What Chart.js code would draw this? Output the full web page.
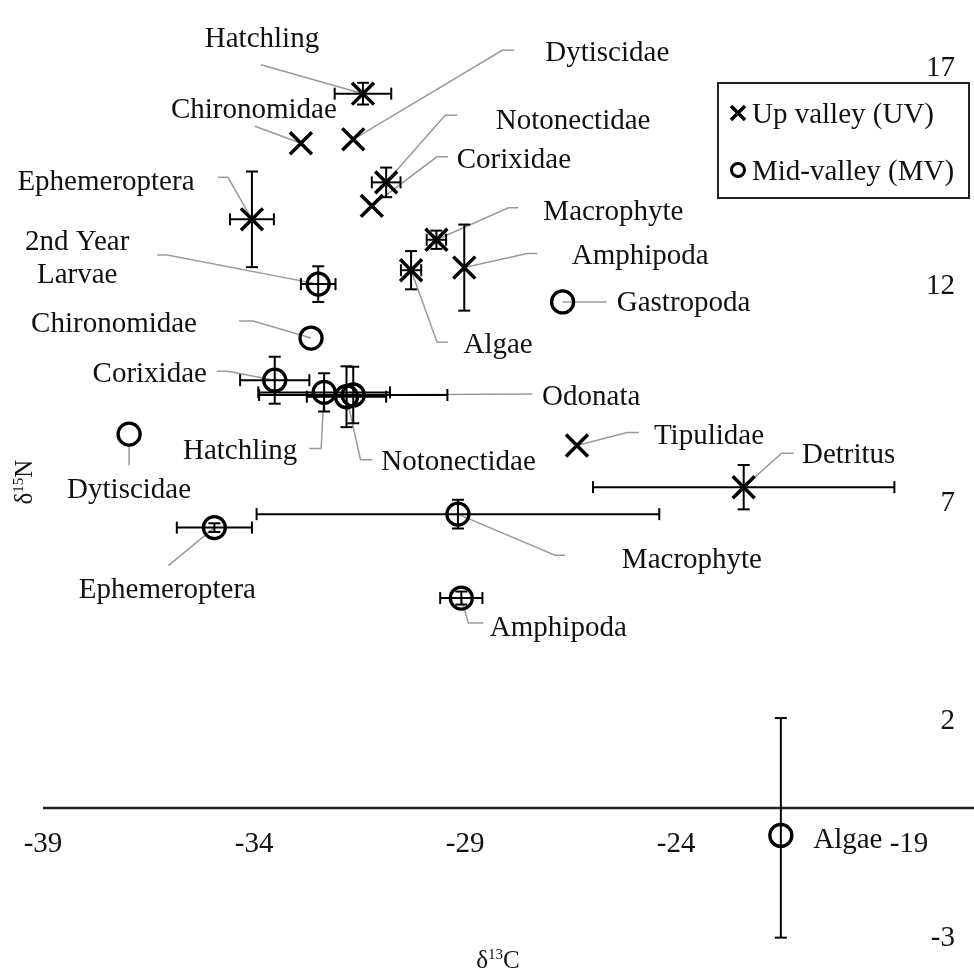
<!DOCTYPE html>
<html>
<head>
<meta charset="utf-8">
<script src="https://cdn.jsdelivr.net/npm/chart.js@4/dist/chart.umd.min.js"></script>
<style>
    body { margin: 0; background: #fff; }
    canvas { display: block; }
</style>
</head>
<body>
<canvas id="grafico" width="974" height="973"></canvas>
<script>
// Up valley (UV): d13C, d15N and error (same up/down)
const uvLabels = ['Hatchling', 'Chironomidae', 'Dytiscidae', 'Notonectidae', 'Corixidae', 'Ephemeroptera', 'Macrophyte', 'Amphipoda', 'Algae', 'Tipulidae', 'Detritus'];
const uvC = [-31.42, -32.89, -31.65, -30.87, -31.21, -34.05, -29.68, -29.02, -30.28, -26.35, -22.40];
const uvN = [16.43, 15.29, 15.38, 14.39, 13.85, 13.54, 13.07, 12.43, 12.37, 8.34, 7.38];
const uvErrC = [0.67, 0, 0, 0.34, 0, 0.52, 0.23, 0, 0.24, 0, 3.57];
const uvErrN = [0.25, 0, 0, 0.34, 0, 1.10, 0.21, 0.99, 0.44, 0, 0.51];

// Mid-valley (MV)
const mvLabels = ['2nd Year\nLarvae', 'Gastropoda', 'Chironomidae', 'Corixidae', 'Odonata', 'Hatchling', 'Notonectidae', 'Dytiscidae', 'Ephemeroptera', 'Macrophyte', 'Amphipoda', 'Algae'];
const mvC = [-32.48, -26.69, -32.65, -33.51, -31.65, -32.34, -31.81, -36.96, -34.94, -29.17, -29.09, -21.52];
const mvN = [12.05, 11.64, 10.81, 9.84, 9.50, 9.56, 9.46, 8.60, 6.45, 6.76, 4.83, -0.63];
const mvErrC = [0.41, 0, 0, 0.82, 2.23, 1.56, 0.94, 0, 0.89, 4.77, 0.50, 0];
const mvErrNUp = [0.41, 0, 0, 0.54, 0.65, 0.44, 0.70, 0, 0.10, 0.33, 0.15, 2.70];
const mvErrNDown = [0.41, 0, 0, 0.54, 0.65, 0.44, 0.70, 0, 0.10, 0.33, 0.15, 2.35];

// tick labels
const xTicks = [-39, -34, -29, -24, -19];
const yTicks = [17, 12, 7, 2, -3];

// label placement (pixel offsets from the point) and leader lines
const uvLabelOffset = [[-101, -56], [-47, -35], [254, -88], [187, -63], [142, -47], [-146, -39], [177, -29], [176, -13], [87, 73], [132, -11], [105, -34]];
const uvLeader = [
    [[-102, -29], [0, 0]],
    [[-46, -17], [0, 0]],
    [[161, -89], [149, -89], [0, 0]],
    [[71, -67], [59, -67], [0, 0]],
    [[76, -49], [65, -49], [0, 0]],
    [[-34, -42], [-24, -42], [0, 0]],
    [[82, -32], [72, -32], [0, 0]],
    [[73, -14], [63, -14], [0, 0]],
    [[37, 72], [26, 72], [0, 0]],
    [[62, -13], [50, -13], [0, 0]],
    [[50, -34], [38, -34], [0, 0]]
];
const mvLabelOffset = [[-241, -27], [121, -1], [-197, -16], [-125, -8], [238, 0], [-84, 57], [112, 64], [0, 54], [-47, 61], [234, 44], [97, 28], [67, 3]];
const mvLeader = [
    [[-161, -29], [-151, -29], [0, 0]],
    [[44, 0], [0, 0]],
    [[-72, -17], [-58, -17], [0, 0]],
    [[-58, -9], [-47, -9], [0, 0]],
    [[179, -1], [0, 0]],
    [[-15, 56], [-3, 56], [0, 0]],
    [[26, 63], [14, 63], [0, 0]],
    [[0, 31], [0, 11]],
    [[-46, 38], [0, 0]],
    [[107, 41], [97, 41], [0, 0]],
    [[22, 25], [7, 25], [0, 0]],
    []
];

const FONT = '"Liberation Serif", "Times New Roman", serif';
const SIZE = 29;

// error bars drawn with the library scales
const errorBars = {
    id: 'errorBars',
    afterDatasetsDraw(chart) {
        const { ctx, scales: { x, y } } = chart;
        ctx.save();
        ctx.strokeStyle = '#000';
        ctx.lineWidth = 2;
        const seg = (a, b, c, d) => { ctx.beginPath(); ctx.moveTo(a, b); ctx.lineTo(c, d); ctx.stroke(); };
        chart.data.datasets.forEach(ds => {
            ds.data.forEach((p, i) => {
                const px = x.getPixelForValue(p.x);
                const py = y.getPixelForValue(p.y);
                const ex = ds.errX[i];
                if (ex > 0) {
                    const l = x.getPixelForValue(p.x - ex);
                    const r = x.getPixelForValue(p.x + ex);
                    seg(l, py, r, py);
                    seg(l, py - 6, l, py + 6);
                    seg(r, py - 6, r, py + 6);
                }
                const up = ds.errYUp[i], dn = ds.errYDown[i];
                if (up > 0 || dn > 0) {
                    const t = y.getPixelForValue(p.y + up);
                    const b = y.getPixelForValue(p.y - dn);
                    seg(px, t, px, b);
                    seg(px - 6, t, px + 6, t);
                    seg(px - 6, b, px + 6, b);
                }
            });
        });
        ctx.restore();
    }
};

// text with superscript part
function supText(ctx, parts, cx, baseline, size, supSize) {
    let w = 0;
    parts.forEach(p => {
        ctx.font = `${p.sup ? supSize : size}px ${FONT}`;
        w += ctx.measureText(p.t).width;
    });
    let xx = cx - w / 2;
    ctx.textAlign = 'left';
    ctx.textBaseline = 'alphabetic';
    parts.forEach(p => {
        ctx.font = `${p.sup ? supSize : size}px ${FONT}`;
        ctx.fillText(p.t, xx, p.sup ? baseline - size * 0.38 : baseline);
        xx += ctx.measureText(p.t).width;
    });
}

// leaders, labels, axis line, legend, axis titles
const annotations = {
    id: 'annotations',
    beforeDatasetsDraw(chart) {
        const { ctx, chartArea, scales: { y } } = chart;
        ctx.save();
        // horizontal axis at 0, running to the right edge
        const y0 = y.getPixelForValue(0);
        ctx.strokeStyle = '#222';
        ctx.lineWidth = 2.5;
        ctx.beginPath();
        ctx.moveTo(chartArea.left, y0);
        ctx.lineTo(chart.width, y0);
        ctx.stroke();
        // leader lines
        ctx.strokeStyle = '#9a9a9a';
        ctx.lineWidth = 1.5;
        chart.data.datasets.forEach((ds, d) => {
            const meta = chart.getDatasetMeta(d);
            meta.data.forEach((el, i) => {
                const pts = ds.leaders[i];
                if (!pts || pts.length < 2) return;
                ctx.beginPath();
                pts.forEach((o, k) => {
                    if (k === 0) ctx.moveTo(el.x + o[0], el.y + o[1]);
                    else ctx.lineTo(el.x + o[0], el.y + o[1]);
                });
                ctx.stroke();
            });
        });
        ctx.restore();
    },
    afterDraw(chart) {
        const { ctx } = chart;
        ctx.save();
        ctx.fillStyle = '#111';
        ctx.font = `${SIZE}px ${FONT}`;
        ctx.textAlign = 'center';
        ctx.textBaseline = 'alphabetic';
        chart.data.datasets.forEach((ds, d) => {
            const meta = chart.getDatasetMeta(d);
            meta.data.forEach((el, i) => {
                const lines = ds.names[i].split('\n');
                const off = ds.labelOffset[i];
                const top = el.y + off[1] - (lines.length - 1) * 33 / 2;
                lines.forEach((t, k) => ctx.fillText(t, el.x + off[0], top + k * 33 + 9.6));
            });
        });

        // legend box
        ctx.strokeStyle = '#222';
        ctx.lineWidth = 2;
        ctx.strokeRect(718, 83, 251, 115);
        ctx.strokeStyle = '#000';
        ctx.lineWidth = 3.5;
        ctx.beginPath();
        ctx.moveTo(731, 106); ctx.lineTo(745, 120);
        ctx.moveTo(745, 106); ctx.lineTo(731, 120);
        ctx.stroke();
        ctx.lineWidth = 3;
        ctx.beginPath();
        ctx.arc(738, 170, 6.5, 0, Math.PI * 2);
        ctx.stroke();
        ctx.textAlign = 'left';
        ctx.font = `${SIZE}px ${FONT}`;
        ctx.fillText(chart.data.datasets[0].label, 752, 123);
        ctx.fillText(chart.data.datasets[1].label, 752, 180);

        // axis titles
        supText(ctx, [{ t: 'δ' }, { t: '13', sup: true }, { t: 'C' }], 498, 968, 25, 15);
        ctx.translate(23, 482);
        ctx.rotate(-Math.PI / 2);
        supText(ctx, [{ t: 'δ' }, { t: '15', sup: true }, { t: 'N' }], 0, 9, 25, 15);
        ctx.restore();
    }
};

new Chart(document.getElementById('grafico'), {
    type: 'scatter',
    data: {
        datasets: [{
            label: 'Up valley (UV)',
            data: uvC.map((c, i) => ({ x: c, y: uvN[i] })),
            names: uvLabels,
            errX: uvErrC,
            errYUp: uvErrN,
            errYDown: uvErrN,
            labelOffset: uvLabelOffset,
            leaders: uvLeader,
            pointStyle: 'crossRot',
            pointRadius: 15.5,
            pointHoverRadius: 15.5,
            pointBorderWidth: 3.5,
            pointBorderColor: '#000',
            pointBackgroundColor: '#000',
            clip: false
        }, {
            label: 'Mid-valley (MV)',
            data: mvC.map((c, i) => ({ x: c, y: mvN[i] })),
            names: mvLabels,
            errX: mvErrC,
            errYUp: mvErrNUp,
            errYDown: mvErrNDown,
            labelOffset: mvLabelOffset,
            leaders: mvLeader,
            pointStyle: 'circle',
            pointRadius: 11,
            pointHoverRadius: 11,
            pointBorderWidth: 3.3,
            pointBorderColor: '#000',
            pointBackgroundColor: 'rgba(0,0,0,0)',
            clip: false
        }]
    },
    options: {
        responsive: false,
        animation: false,
        events: [],
        layout: { padding: { left: 43, right: 19, top: 10, bottom: 31 } },
        plugins: {
            legend: { display: false },
            tooltip: { enabled: false }
        },
        scales: {
            x: {
                type: 'linear',
                min: -39,
                max: -18.46,
                position: { y: 0 },
                grid: { display: false, drawTicks: false },
                border: { display: false },
                afterBuildTicks: s => { s.ticks = xTicks.map(v => ({ value: v })); },
                ticks: {
                    font: { family: FONT, size: SIZE },
                    color: '#111',
                    padding: 19,
                    maxRotation: 0,
                    autoSkip: false,
                    // last label sits a little right of its tick, clear of the Algae label
                    callback: (v, i) => (i === xTicks.length - 1 ? '      ' : '') + String(v)
                }
            },
            y: {
                type: 'linear',
                min: -3.08,
                max: 18,
                position: 'right',
                grid: { display: false, drawTicks: false },
                border: { display: false },
                afterBuildTicks: s => { s.ticks = yTicks.map(v => ({ value: v })); },
                ticks: {
                    font: { family: FONT, size: SIZE },
                    color: '#111',
                    padding: 8,
                    crossAlign: 'far',
                    callback: v => String(v)
                }
            }
        }
    },
    plugins: [errorBars, annotations]
});
</script>
</body>
</html>
